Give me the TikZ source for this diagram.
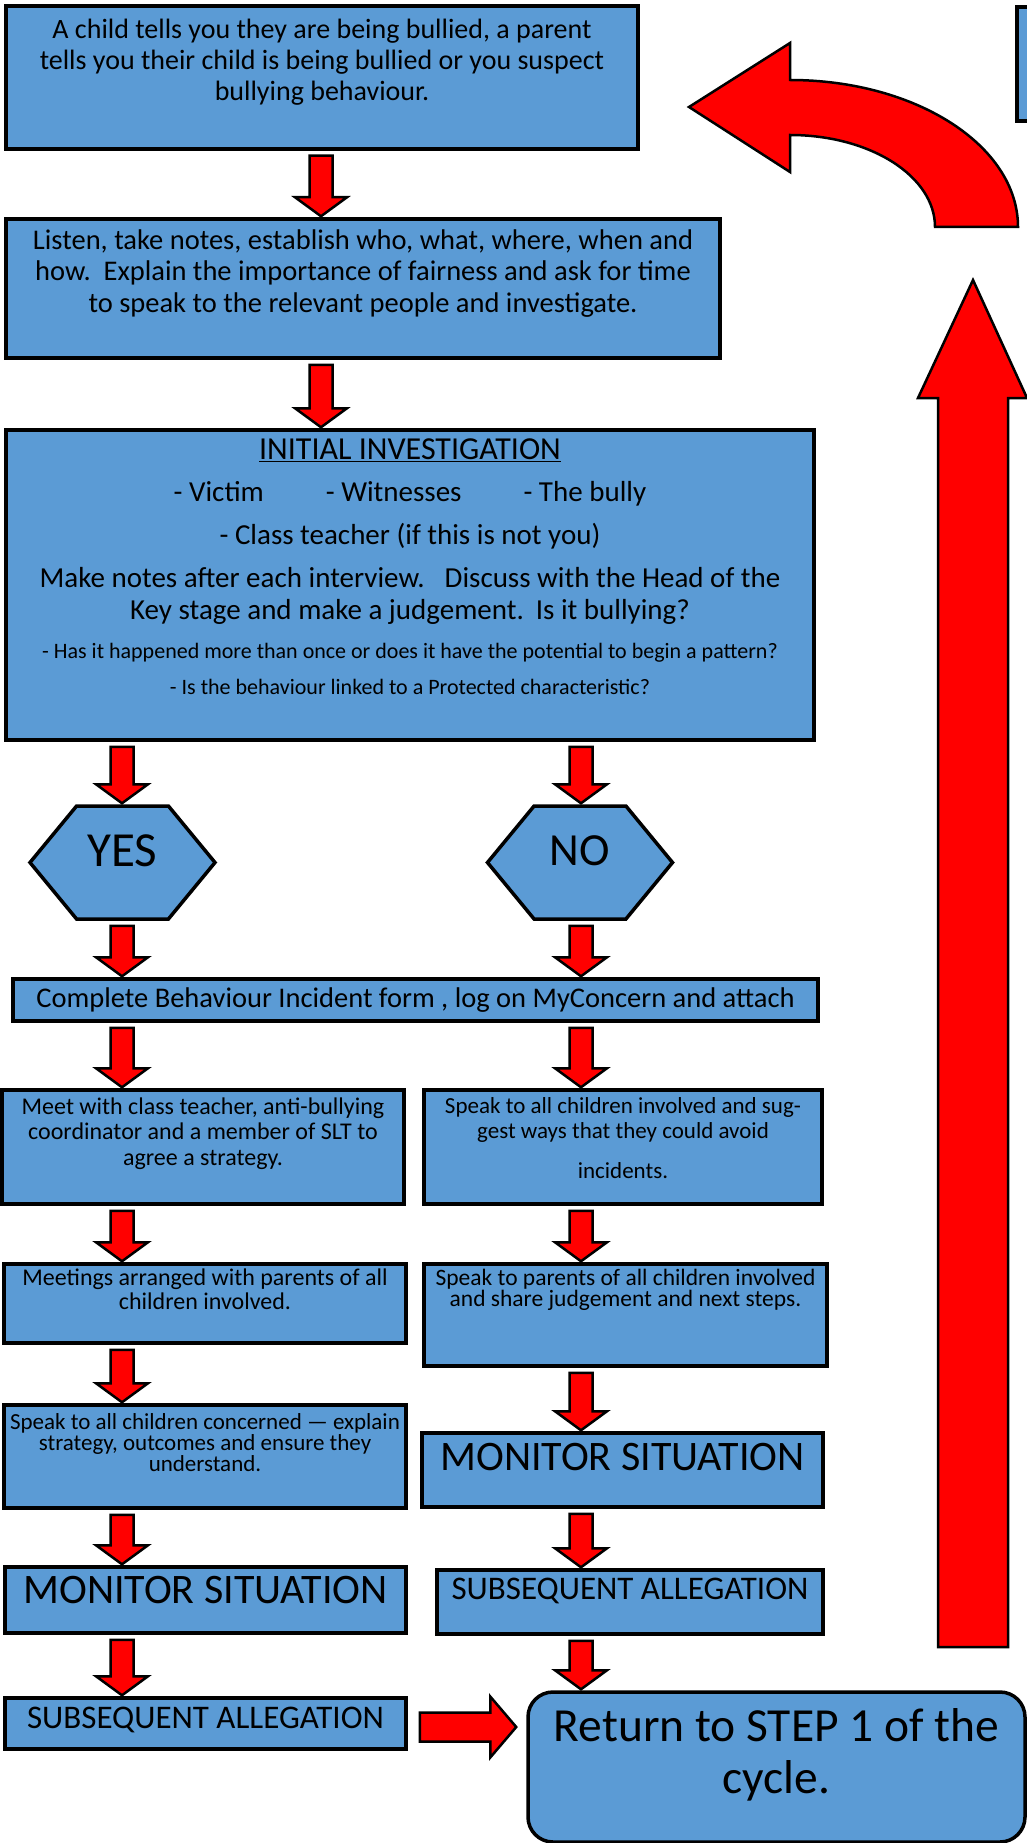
\documentclass[tikz,border=0pt]{standalone}
\usepackage{fontspec}
\setmainfont{Carlito}
\usetikzlibrary{calc,positioning,shapes.symbols}
\definecolor{boxblue}{HTML}{5B9BD5}
\tikzset{
  box/.style={draw=black, line width=3.5pt, fill=boxblue, inner sep=0pt},
  txt/.style={align=center, inner sep=0pt},
  hexa/.style={box, signal, signal to=east and west, signal pointer angle=101,
    minimum width=185pt, minimum height=113pt},
  blockarrow/.style={draw=black, line width=2.5pt, fill=red, line join=miter},
}
% block arrow pointing down at x=#1, from node #2 to node #3
\newcommand\downblock[3]{%
  \draw[blockarrow] let \p1=(#2.south), \p2=(#3.north) in
    (#1pt-11.5pt,\y1-5pt) -- (#1pt+11.5pt,\y1-5pt) -- (#1pt+11.5pt,\y2+20pt)
    -- (#1pt+26pt,\y2+20pt) -- (#1pt,\y2+1pt) -- (#1pt-26pt,\y2+20pt)
    -- (#1pt-11.5pt,\y2+20pt) -- cycle;}
% block arrow pointing right, from node #1 to node #2
\newcommand\rightblock[2]{%
  \draw[blockarrow] let \p1=(#1.east), \p2=(#2.west) in
    (\x1+12pt,\y1+11pt) -- (\x2-36pt,\y1+11pt) -- (\x2-36pt,\y1+27pt)
    -- (\x2-10pt,\y1-3.5pt) -- (\x2-36pt,\y1-34pt) -- (\x2-36pt,\y1-18pt)
    -- (\x1+12pt,\y1-18pt) -- cycle;}

\begin{document}
\begin{tikzpicture}[x=1pt,y=-1pt]
\useasboundingbox (0,0) rectangle (1027,1843);
\clip (0,0) rectangle (1027,1843);

%%% top of the cycle
\node[box, minimum width=632pt, minimum height=143pt] (start) at (322,77.5) {};
\node[txt, font=\fontsize{28}{31}\selectfont, below=15pt of start.north] (start-t)
  {A child tells you they are being bullied, a parent\\tells you their child is being bullied or you suspect\\bullying behaviour.};

\node[box, minimum width=714pt, minimum height=139pt] (listen) at (363,288.5) {};
\node[txt, font=\fontsize{28.5}{31.5}\selectfont, below=12pt of listen.north] (listen-t)
  {Listen, take notes, establish who, what, where, when and\\how.\ \ Explain the importance of fairness and ask for time\\to speak to the relevant people and investigate.};

\node[box, minimum width=808pt, minimum height=310pt] (invest) at (410,585) {};
\node[txt, font=\fontsize{29}{32}\selectfont, below=10pt of invest.north] (invest-t)
  {{\fontsize{32}{32}\selectfont\underline{INITIAL INVESTIGATION}}\\[10pt]
   - Victim\hspace{62pt}- Witnesses\hspace{62pt}- The bully\\[11pt]
   - Class teacher (if this is not you)\\[11pt]
   Make notes after each interview.\hspace{20pt}Discuss with the Head of the\\
   Key stage and make a judgement.\hspace{12pt}Is it bullying?\\[7pt]
   {\fontsize{22}{24}\selectfont - Has it happened more than once or does it have the potential to begin a pattern?}\\[4pt]
   {\fontsize{22}{24}\selectfont - Is the behaviour linked to a Protected characteristic?}};

%%% decision
\node[hexa, font=\fontsize{49}{52}\selectfont] (yes) at (122.5,862.5) {\raisebox{24pt}{YES}};
\node[hexa, font=\fontsize{46}{52}\selectfont] (no) at (580,862.5) {\raisebox{24pt}{NO}};

\node[box, minimum width=805pt, minimum height=42pt, font=\fontsize{28.5}{30}\selectfont] (form) at (415.5,1000)
  {Complete Behaviour Incident form , log on MyConcern and attach};

%%% left column
\node[box, minimum width=402pt, minimum height=114pt] (meet) at (203,1147) {};
\node[txt, font=\fontsize{24}{25.5}\selectfont, below=9pt of meet.north] (meet-t)
  {Meet with class teacher, anti-bullying\\coordinator and a member of SLT to\\agree a strategy.};

\node[box, minimum width=402pt, minimum height=79pt] (parents) at (205,1303.5) {};
\node[txt, font=\fontsize{24}{24}\selectfont, below=6pt of parents.north] (parents-t)
  {Meetings arranged with parents of all\\children involved.};

\node[box, minimum width=402pt, minimum height=103pt] (explain) at (205,1456.5) {};
\node[txt, font=\fontsize{23}{21}\selectfont, below=10pt of explain.north] (explain-t)
  {Speak to all children concerned — explain\\strategy, outcomes and ensure they\\understand.};

\node[box, minimum width=401pt, minimum height=66pt] (monL) at (205.5,1600) {};
\node[txt, font=\fontsize{42}{44}\selectfont, below=11pt of monL.north] (monL-t) {MONITOR SITUATION};

\node[box, minimum width=401pt, minimum height=51pt] (subL) at (205.5,1723.5) {};
\node[txt, font=\fontsize{33}{36}\selectfont, below=11pt of subL.north] (subL-t) {SUBSEQUENT ALLEGATION};

%%% right column
\node[box, minimum width=398pt, minimum height=114pt] (speak) at (623,1147) {};
\node[txt, font=\fontsize{23}{25.5}\selectfont, below=9pt of speak.north] (speak-t)
  {Speak to all children involved and sug-\\gest ways that they could avoid\\[14pt]incidents.};

\node[box, minimum width=403pt, minimum height=102pt] (share) at (625.5,1315) {};
\node[txt, font=\fontsize{23.5}{19.5}\selectfont, below=7pt of share.north] (share-t)
  {Speak to parents of all children involved\\and share judgement and next steps.};

\node[box, minimum width=401pt, minimum height=74pt] (monR) at (622.5,1470) {};
\node[txt, font=\fontsize{42}{44}\selectfont, below=12pt of monR.north] (monR-t) {MONITOR SITUATION};

\node[box, minimum width=386pt, minimum height=64pt] (subR) at (630,1602) {};
\node[txt, font=\fontsize{33}{36}\selectfont, below=10pt of subR.north] (subR-t) {SUBSEQUENT ALLEGATION};

\node[box, rounded corners=25pt, minimum width=497pt, minimum height=150pt] (return) at (776.5,1767) {};
\node[txt, font=\fontsize{47.5}{52}\selectfont, below=18pt of return.north] (return-t)
  {Return to STEP 1 of the\\cycle.};

% box cut off at the right edge
\draw[box] (1017,7) rectangle (1040,121);

%%% arrows
\downblock{321}{start}{listen}
\downblock{321}{listen}{invest}
\downblock{122}{invest}{yes}
\downblock{581}{invest}{no}
\downblock{122}{yes}{form}
\downblock{581}{no}{form}
\downblock{122}{form}{meet}
\downblock{581}{form}{speak}
\downblock{122}{meet}{parents}
\downblock{581}{speak}{share}
\downblock{122}{parents}{explain}
\downblock{581}{share}{monR}
\downblock{122}{explain}{monL}
\downblock{581}{monR}{subR}
\downblock{122}{monL}{subL}
\downblock{581}{subR}{return}
\rightblock{subL}{return}

% back to the start
\draw[blockarrow] (938,1647) -- (1008,1647) -- (1008,398) -- (1027,398) -- (973,280)
  -- (918,398) -- (938,398) -- cycle;
\draw[blockarrow] (1018,227) arc[start angle=0, end angle=90, x radius=228pt, y radius=147pt]
  -- (790,43) -- (689,107) -- (790,172) -- (790,135)
  arc[start angle=90, end angle=0, x radius=145pt, y radius=92pt] -- cycle;
\end{tikzpicture}
\end{document}
